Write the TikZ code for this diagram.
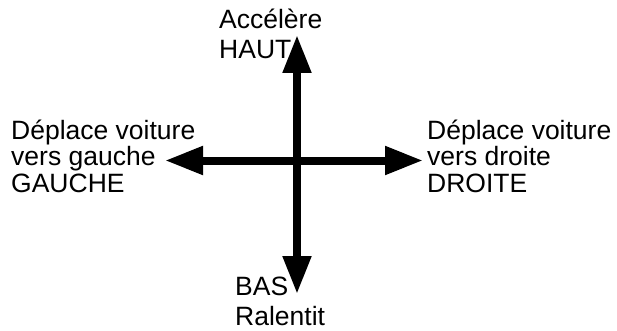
\documentclass[tikz,border=0pt]{standalone}
\usepackage{fontspec}
\setmainfont{Liberation Sans}
\usetikzlibrary{arrows.meta}
\begin{document}
\begin{tikzpicture}[x=1pt,y=-1pt,
  lbl/.style={anchor=base west,inner sep=0pt,font=\fontsize{26.5}{27}\selectfont},
  axis/.style={line width=8pt,{Triangle[length=38pt,width=27pt]}-{Triangle[length=38pt,width=27pt]}}]
  \useasboundingbox (0,0) rectangle (617,331);
  % tips of the cross
  \coordinate (up) at (297,35);
  \coordinate (down) at (297,294);
  \coordinate (left) at (165,160.5);
  \coordinate (right) at (423,160.5);
  \draw[axis] (left) -- (right);
  \draw[axis] (down) -- (up);
  % captions
  \node[lbl] (u1) at (219,28.5) {Accélère};
  \node[lbl] (u2) at (219,59) {HAUT};
  \node[lbl] (l1) at (11,139.5) {Déplace voiture};
  \node[lbl] (l2) at (11,165.5) {vers gauche};
  \node[lbl] (l3) at (11,192) {GAUCHE};
  \node[lbl] (r1) at (427,139.5) {Déplace voiture};
  \node[lbl] (r2) at (427,165.5) {vers droite};
  \node[lbl] (r3) at (427,192) {DROITE};
  \node[lbl] (d1) at (235,295) {BAS};
  \node[lbl] (d2) at (235,325) {Ralentit};
\end{tikzpicture}
\end{document}
